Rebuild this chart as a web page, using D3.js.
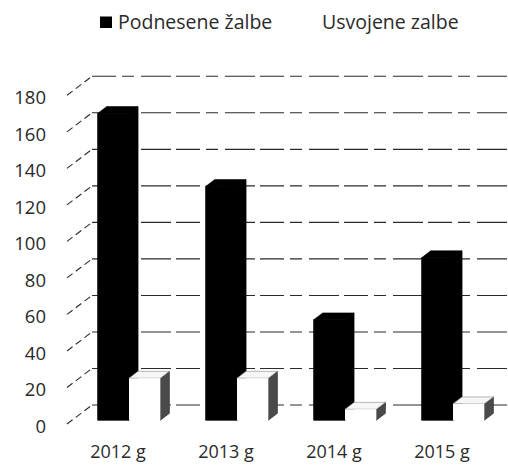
<!DOCTYPE html>
<html>
<head>
<meta charset="utf-8">
<script src="https://cdn.jsdelivr.net/npm/d3@7/dist/d3.min.js"></script>
<style>
  html, body { margin: 0; padding: 0; background: #fff; }
  svg { display: block; }
  text { font-family: "Open Sans", "Noto Sans", sans-serif; fill: #2a2a2a; }
</style>
</head>
<body>
<svg id="chart" width="508" height="466"></svg>
<script>
const categories = ["2012 g", "2013 g", "2014 g", "2015 g"];
const seriesNames = ["Podnesene žalbe", "Usvojene zalbe"];
const podnesene = [168, 128, 55, 89];
const usvojene = [23, 23, 6, 9];
const yTicks = [0, 20, 40, 60, 80, 100, 120, 140, 160, 180];

const svg = d3.select("#chart");
const W = 508, H = 466;

// 3D oblique projection: depth fraction f (0 = front, 1 = back wall)
const DX = 25, DY = 19;
const y = d3.scaleLinear().domain([0, 180]).range([424, 95.3]);
const x = d3.scaleBand().domain(categories).range([70, 502])
  .paddingInner(0.42).paddingOuter(0.21);
const P = (px, v, f) => [px + DX * f, y(v) - DY * f];
const F0 = 0.2, F1 = 0.56;

// back wall gridlines
const gGrid = svg.append("g");
gGrid.selectAll("line.grid").data(yTicks).join("line")
  .attr("x1", P(67, 0, 1)[0]).attr("x2", W)
  .attr("y1", d => P(0, d, 1)[1]).attr("y2", d => P(0, d, 1)[1])
  .attr("stroke", "#2a2a2a").attr("stroke-width", 1.1)
  .attr("stroke-dasharray", "24,6,12,7,30,5");

// diagonal ticks (side wall edge)
gGrid.selectAll("line.diag").data(yTicks).join("line")
  .attr("x1", 67).attr("y1", d => y(d))
  .attr("x2", 67 + DX).attr("y2", d => y(d) - DY)
  .attr("stroke", "#2a2a2a").attr("stroke-width", 1.1)
  .attr("stroke-dasharray", "7,4");

// y labels
svg.append("g").selectAll("text").data(yTicks).join("text")
  .attr("x", 46).attr("y", d => y(d) + 9)
  .attr("text-anchor", "end")
  .style("font-size", "18.5px")
  .text(d => d);

// bars
function drawBar(g, x0, x1, v, fills) {
  const front = [P(x0, 0, F0), P(x0, v, F0), P(x1, v, F0), P(x1, 0, F0)];
  const top = [P(x0, v, F0), P(x0, v, F1), P(x1, v, F1), P(x1, v, F0)];
  const side = [P(x1, 0, F0), P(x1, v, F0), P(x1, v, F1), P(x1, 0, F1)];
  const line = d3.line();
  g.append("path").attr("d", line(side) + "Z").attr("fill", fills.side)
    .attr("stroke", fills.sideStroke).attr("stroke-width", 0.8);
  g.append("path").attr("d", line(top) + "Z").attr("fill", fills.top)
    .attr("stroke", fills.topStroke).attr("stroke-width", 0.6);
  g.append("path").attr("d", line(front) + "Z").attr("fill", fills.front)
    .attr("stroke", fills.frontStroke).attr("stroke-width", 0.8);
}
const gBars = svg.append("g");
categories.forEach((c, i) => {
  const b = x(c), half = x.bandwidth() / 2;
  drawBar(gBars, b, b + half, podnesene[i],
    { front: "#000", top: "#000", side: "#000", frontStroke: "#000", topStroke: "#000", sideStroke: "#000" });
  drawBar(gBars, b + half, b + 2 * half, usvojene[i],
    { front: "#fff", top: "#f6f6f6", side: "#4a4a4a", frontStroke: "none", topStroke: "#888", sideStroke: "#333" });
});

// x labels
svg.append("g").selectAll("text").data(categories).join("text")
  .attr("x", d => x(d) + x.bandwidth() / 2 - 6)
  .attr("y", 458)
  .attr("text-anchor", "middle")
  .style("font-size", "18px")
  .text(d => d);

// legend
const leg = svg.append("g");
leg.append("rect").attr("x", 100).attr("y", 16.5).attr("width", 12).attr("height", 11.5).attr("fill", "#000");
leg.append("text").attr("x", 118).attr("y", 29).style("font-size", "19.5px").text(seriesNames[0]);
leg.append("text").attr("x", 322).attr("y", 29).style("font-size", "19.5px").text(seriesNames[1]);
</script>
</body>
</html>
